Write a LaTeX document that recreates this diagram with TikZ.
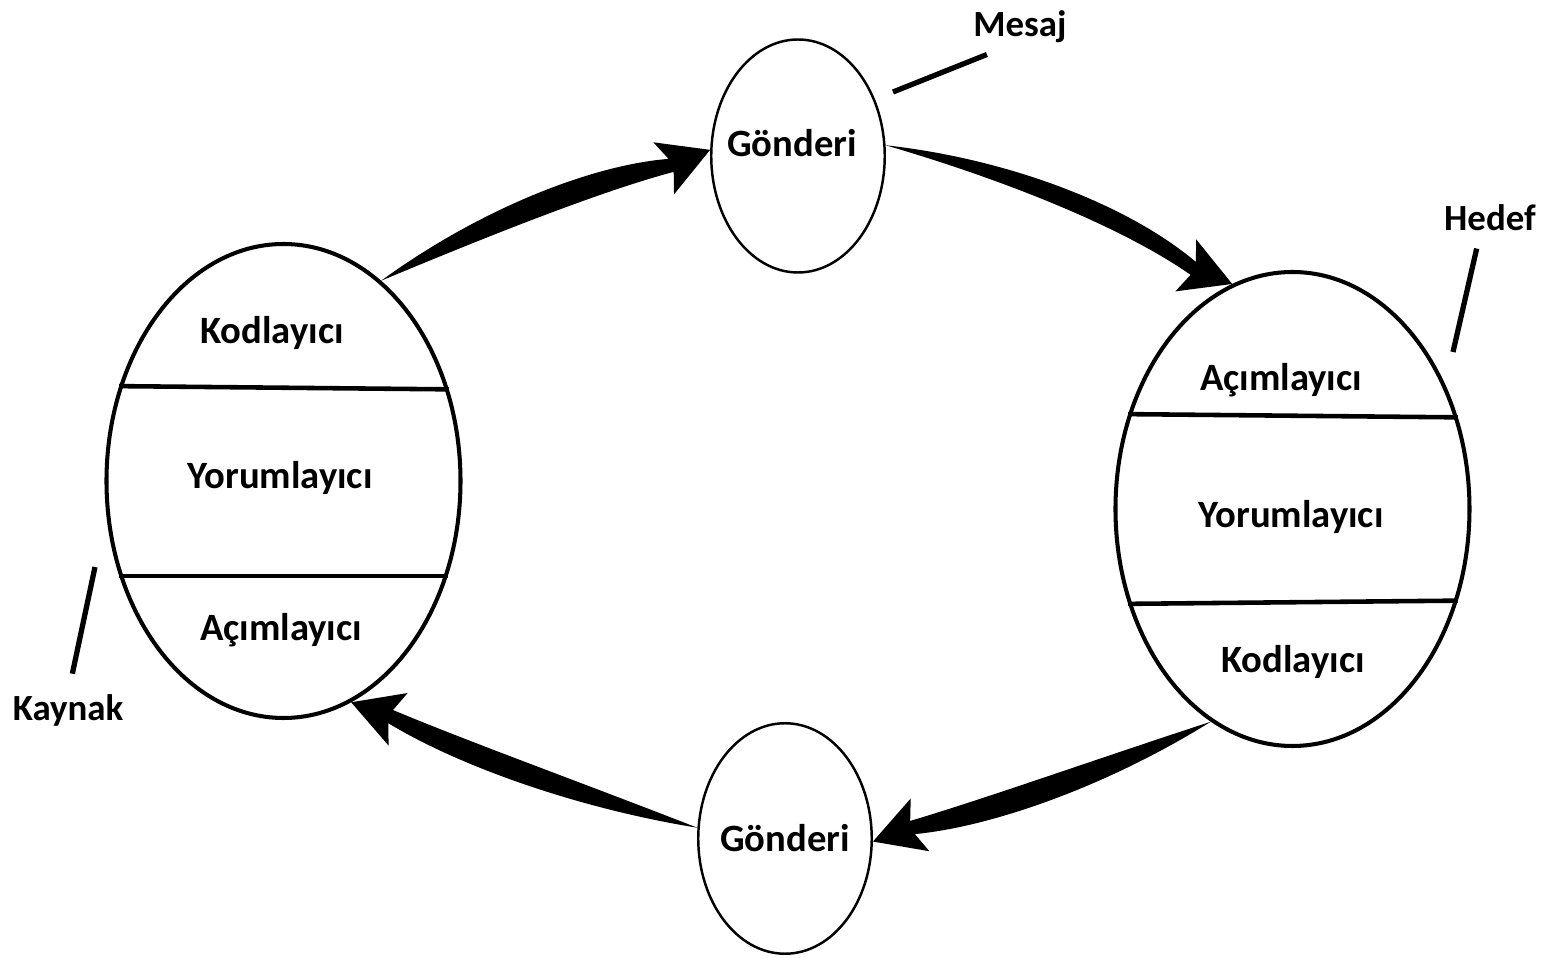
\documentclass[tikz,border=0pt]{standalone}
\usepackage{fontspec}
\setmainfont{Carlito}
\usetikzlibrary{shapes.geometric,calc}

\begin{document}
\begin{tikzpicture}[x=0.1mm, y=-0.1mm,
  oval/.style={draw, ellipse, line width=1.15pt, inner sep=0pt, minimum width=35.4mm, minimum height=47.4mm},
  gonderi/.style={draw, ellipse, line width=0.7pt, inner sep=0pt, minimum width=17.35mm, minimum height=23.3mm},
  katman/.style={font=\fontsize{11}{13}\selectfont\bfseries},
  etiket/.style={font=\fontsize{10.5}{12}\selectfont\bfseries, inner sep=2pt},
  ayrac/.style={line width=1.3pt},
  isaret/.style={line width=1.5pt},
  akis/.style 2 args={fill=black, to path={
    let \p1=(\tikztostart), \p2=(\tikztotarget), \n1={atan2(\y2-\y1,\x2-\x1)} in
    (\p1) .. controls ($(\p1)!0.33!(\p2)+({\n1+90}:#1)$) and ($(\p1)!0.67!(\p2)+({\n1+90}:#1)$)
    .. ($(\p2)!4.2mm!(\p1)+({\n1+90}:0.7mm)$)
    -- ($(\p2)!5mm!(\p1)+({\n1+90}:2.8mm)$)
    -- (\p2)
    -- ($(\p2)!5mm!(\p1)+({\n1-90}:2.8mm)$)
    -- ($(\p2)!4.2mm!(\p1)+({\n1-90}:0.7mm)$)
    .. controls ($(\p1)!0.67!(\p2)+({\n1+90}:#2)$) and ($(\p1)!0.33!(\p2)+({\n1+90}:#2)$)
    .. (\p1) -- cycle}}]
\useasboundingbox (0,0) rectangle (1553,958);

% kaynak ve hedef
\node [oval] (kaynak) at (283.5,481) {};
\node [oval] (hedef) at (1292.5,509) {};
\draw [ayrac] (kaynak.150.6) -- (kaynak.29.4);
\draw [ayrac] (kaynak.-150) -- (kaynak.-30);
\draw [ayrac] (hedef.150.6) -- (hedef.29.4);
\draw [ayrac] (hedef.-150.3) -- (hedef.-29.7);
\node [katman] (kkod) at (272,333) {Kodlayıcı};
\node [katman] (kyorum) at (280,478) {Yorumlayıcı};
\node [katman] (kacim) at (281,630) {Açımlayıcı};
\node [katman] (hacim) at (1281,380) {Açımlayıcı};
\node [katman] (hyorum) at (1291,517) {Yorumlayıcı};
\node [katman] (hkod) at (1293,662) {Kodlayıcı};

% mesajlar
\node [gonderi] (gonder1) at (798,156) {};
\node [gonderi, minimum height=23.05mm] (gonder2) at (785,838.5) {};
\node [katman] (gyazi1) at (792,143) {Gönderi};
\node [katman] (gyazi2) at (785,838) {Gönderi};

\path [akis={3.0mm}{0.2mm}] (kaynak.64) to (gonder1.176);
\path [akis={3.4mm}{1.2mm}] (gonder1.7) to (hedef.105);
\path [akis={2.6mm}{-0.3mm}] (hedef.249) to (gonder2.-2);
\path [akis={2.3mm}{-0.3mm}] (gonder2.173) to (kaynak.-73);

% etiketler
\node [etiket] (mesaj) at (1020,27) {Mesaj};
\node [etiket] (hedefad) at (1490,218) {Hedef};
\node [etiket] (kaynakad) at (68,710) {Kaynak};
\coordinate (mesajuc) at (893,92);
\coordinate (hedefuc) at (1453,352);
\coordinate (kaynakuc) at (95,567);
\draw [isaret, shorten <=1mm] (mesaj.-135) -- (mesajuc);
\draw [isaret, shorten <=1mm] (hedefad.-118) -- (hedefuc);
\draw [isaret, shorten <=1.3mm] (kaynakad.86) -- (kaynakuc);
\end{tikzpicture}
\end{document}
